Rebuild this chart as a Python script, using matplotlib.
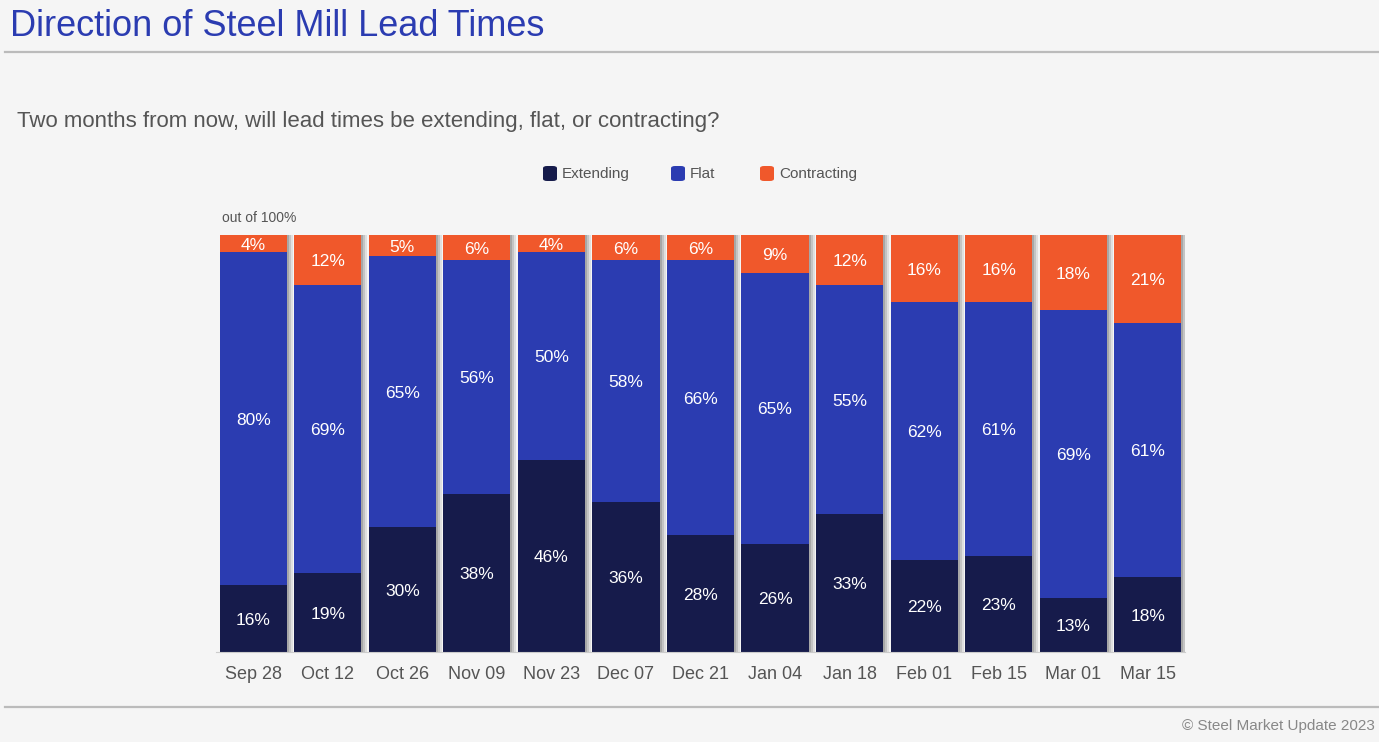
import numpy as np
import matplotlib.pyplot as plt
from matplotlib.patches import FancyBboxPatch
from matplotlib.lines import Line2D

# ---------------------------------------------------------------------------
# data
# ---------------------------------------------------------------------------
dates = ["Sep 28", "Oct 12", "Oct 26", "Nov 09", "Nov 23", "Dec 07", "Dec 21",
         "Jan 04", "Jan 18", "Feb 01", "Feb 15", "Mar 01", "Mar 15"]
extending = [16, 19, 30, 38, 46, 36, 28, 26, 33, 22, 23, 13, 18]
flat = [80, 69, 65, 56, 50, 58, 66, 65, 55, 62, 61, 69, 61]
contracting = [4, 12, 5, 6, 4, 6, 6, 9, 12, 16, 16, 18, 21]

series_names = ["Extending", "Flat", "Contracting"]
colors = ["#161b4b", "#2b3cb1", "#f0582b"]

bg = "#f5f5f5"
grey_txt = "#555555"
sans = ["Liberation Sans", "DejaVu Sans"]

W, H = 1379, 742
fig = plt.figure(figsize=(W / 100, H / 100), dpi=100, facecolor=bg)

# axes placed in pixel terms
left, right, bottom, top = 216, 1185, 652, 235
ax = fig.add_axes([left / W, 1 - bottom / H, (right - left) / W, (bottom - top) / H])
ax.set_facecolor(bg)

x = np.arange(len(dates))
bw = 0.9
px = 1 / 74.5  # one pixel in data units

# soft shadow on right side of each bar
for off, a in [(6, 0.15), (4, 0.22), (2, 0.3)]:
    ax.bar(x + off * px, 100, width=bw, color="#666666", alpha=a,
           linewidth=0, zorder=1)

bottoms = np.zeros(len(dates))
for vals, name, c in zip([extending, flat, contracting], series_names, colors):
    vals = np.array(vals, dtype=float)
    ax.bar(x, vals, bottom=bottoms, width=bw, color=c, linewidth=0,
           zorder=2, label=name)
    for xi, b, v in zip(x, bottoms, vals):
        ax.text(xi, b + v / 2 - 0.4, f"{int(v)}%", ha="center", va="center",
                color="white", fontsize=12.5, family=sans, zorder=3)
    bottoms += vals

ax.set_xlim(-0.5, len(dates) - 0.5)
ax.set_ylim(0, 100)
for s in ["top", "right", "left"]:
    ax.spines[s].set_visible(False)
ax.spines["bottom"].set_color("#cccccc")
ax.set_yticks([])
ax.set_xticks(x)
ax.set_xticklabels(dates, fontsize=13, color=grey_txt, family=sans)
ax.tick_params(axis="x", length=0, pad=10)

# title and rules
fig.text(10 / W, 1 - 27 / H, "Direction of Steel Mill Lead Times", fontsize=26,
         color="#2b3cb1", family=sans, ha="left", va="center")
fig.add_artist(Line2D([5 / W, 1], [1 - 52 / H] * 2, color="#bbbbbb", lw=1.6))
fig.add_artist(Line2D([5 / W, 1], [1 - 707 / H] * 2, color="#bbbbbb", lw=1.6))

fig.text(17 / W, 1 - 121 / H,
         "Two months from now, will lead times be extending, flat, or contracting?",
         fontsize=16, color=grey_txt, family=sans, ha="left", va="center")

fig.text(222 / W, 1 - 218 / H, "out of 100%", fontsize=10, color=grey_txt,
         family=sans, ha="left", va="center")

fig.text(1375 / W, 1 - 726 / H, "\u00a9 Steel Market Update 2023", fontsize=11,
         color="#888888", family=sans, ha="right", va="center")

# legend drawn by hand with rounded squares
legend_x = [543, 671, 760]
for lx, name, c in zip(legend_x, series_names, colors):
    sq = FancyBboxPatch(((lx) / W, 1 - 181 / H), 14 / W, 15 / H,
                        boxstyle="round,pad=0,rounding_size=0.003",
                        transform=fig.transFigure, facecolor=c, edgecolor="none")
    fig.add_artist(sq)
    fig.text((lx + 19) / W, 1 - 174 / H, name, fontsize=11, color=grey_txt,
             family=sans, ha="left", va="center")

fig.savefig("out.png", dpi=100, facecolor=bg)
